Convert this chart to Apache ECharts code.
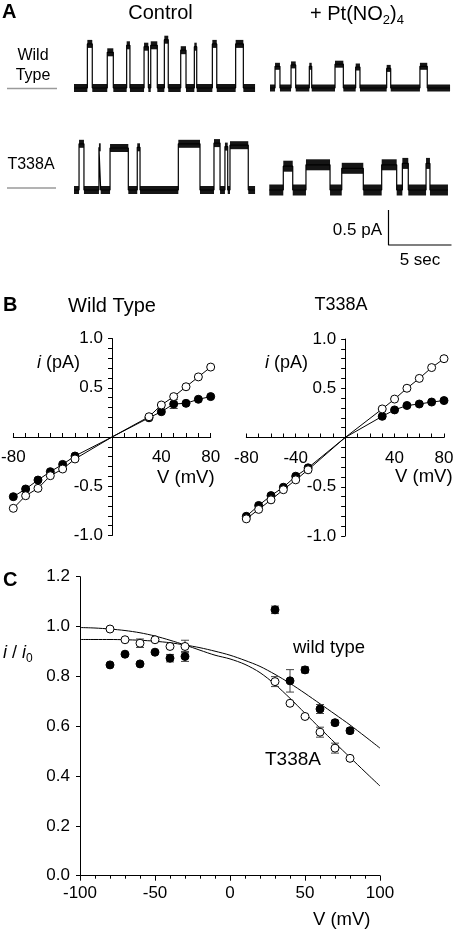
<!DOCTYPE html>
<html><head><meta charset="utf-8">
<script src="https://cdn.jsdelivr.net/npm/echarts@6/dist/echarts.min.js"></script>
<style>html,body{margin:0;padding:0;background:#fff}#c{width:455px;height:933px}</style>
</head><body><div id="c"></div>
<script>
// ---------- Panel A: single-channel openings [open t (s), close t (s), amplitude (pA)]
const wtControlEvents = [[1.06,1.45,0.63],[2.64,3.12,0.51],[4.18,4.44,0.61],[5.56,5.90,0.59],[6.09,6.61,0.61],[7.17,7.48,0.69],[8.47,8.89,0.54],[9.55,9.74,0.59],[10.98,11.33,0.63],[12.83,13.44,0.63]];
const wtPtEvents = [[0.40,0.79,0.31],[1.67,2.04,0.33],[3.12,3.31,0.31],[5.16,5.82,0.34],[6.80,7.14,0.30],[9.26,9.58,0.28],[11.90,12.48,0.31]];
const t338aControlEvents = [[0.40,0.79,0.66],[1.98,2.12,0.61],[2.86,4.31,0.60],[5.02,5.24,0.61],[8.28,10.00,0.66],[11.11,11.59,0.67],[11.98,12.20,0.62],[12.38,13.83,0.64]];
const t338aPtEvents = [[1.11,1.86,0.34],[2.91,4.82,0.36],[5.75,7.46,0.31],[8.92,10.11,0.36],[10.56,11.03,0.38],[12.44,12.75,0.38]];
const traceEnds = [14.37, 14.29, 14.37, 14.18];   // record length (s) of each trace
const scaleBarTime = 5;       // s
const scaleBarCurrent = 0.5;  // pA

// ---------- Panel B: I-V relations
const ivVoltages = [-80,-70,-60,-50,-40,-30,30,40,50,60,70,80];
const wtControlI = [-0.724,-0.596,-0.521,-0.393,-0.325,-0.223,0.206,0.325,0.41,0.51,0.61,0.71];
const wtPtI = [-0.606,-0.528,-0.437,-0.352,-0.278,-0.193,0.195,0.257,0.335,0.342,0.383,0.41];
const wtPtIErr = [0,0,0,0,0,0,0,0,0.045,0,0,0];
const t338aControlI = [-0.826,-0.73,-0.633,-0.53,-0.43,-0.328,0.29,0.39,0.50,0.60,0.71,0.80];
const t338aPtI = [-0.80,-0.69,-0.59,-0.505,-0.393,-0.308,0.215,0.28,0.325,0.34,0.36,0.375];
const ivTickLabelsWT = [-80, 40, 80];
const ivTickLabelsT338A = [-80, -40, 40, 80];

// ---------- Panel C: fractional current i/i0
const blockVoltages = [-80,-70,-60,-50,-40,-30,30,40,50,60,70,80];
const wtRatio = [0.846,0.889,0.85,0.897,0.873,0.88,1.067,0.782,0.826,0.669,0.614,0.582];
const wtRatioErr = [0.005,0.005,0.005,0.005,0.015,0.02,0.015,0.045,0.012,0.018,0.01,0.01];
const t338aRatio = [0.99,0.947,0.933,0.947,0.92,0.92,0.779,0.692,0.639,0.576,0.512,0.471];
const t338aRatioErr = [0.005,0.005,0.017,0.005,0.008,0.025,0.02,0.005,0.005,0.02,0.02,0.008];
const fitVoltages = [-100,-90,-80,-70,-60,-50,-40,-30,-20,-10,0,10,20,30,40,50,60,70,80,90,100];
const wtFit = [0.948,0.948,0.948,0.947,0.945,0.941,0.935,0.926,0.915,0.901,0.885,0.864,0.84,0.808,0.772,0.732,0.69,0.648,0.605,0.559,0.512];
const t338aFit = [0.996,0.994,0.99,0.984,0.975,0.962,0.945,0.926,0.905,0.885,0.87,0.848,0.815,0.768,0.712,0.652,0.592,0.533,0.475,0.417,0.36];

// ================= build =================
const FONT = "'Liberation Sans', Arial, Helvetica, sans-serif";
const chart = echarts.init(document.getElementById('c'), null, {renderer: 'canvas'});

function stepData(events, end) {
  const d = [[0, 0]];
  events.forEach(([a, b, h]) => d.push([a, 0], [a, h], [b, h], [b, 0]));
  d.push([end, 0]);
  return d;
}
function dwellSegments(events, end) {
  const s = []; let t = 0;
  events.forEach(([a, b, h]) => { s.push([t, a, 0]); s.push([a, b, h]); t = b; });
  s.push([t, end, 0]);
  return s;
}
function bandRender(half) {
  return function (params, api) {
    const p0 = api.coord([api.value(0), api.value(2)]);
    const p1 = api.coord([api.value(1), api.value(2)]);
    return {type: 'rect', shape: {x: p0[0], y: p0[1] - half, width: Math.max(p1[0] - p0[0], 0.6), height: half * 2},
      style: {fill: '#151515'}};
  };
}
function ivLine(v, vals) {
  const pts = v.map((x, k) => [x, vals[k]]);
  const neg = pts.filter(p => p[0] < 0), pos = pts.filter(p => p[0] > 0);
  return neg.concat([[0, 0]], pos);
}
function errRender(color) {
  return function (params, api) {
    const x = api.value(0), m = api.value(1), e = api.value(2);
    const top = api.coord([x, m + e]), bot = api.coord([x, m - e]);
    const c = 4;
    return {type: 'group', children: [
      {type: 'line', shape: {x1: top[0], y1: top[1], x2: bot[0], y2: bot[1]}, style: {stroke: color, lineWidth: 1}},
      {type: 'line', shape: {x1: top[0] - c, y1: top[1], x2: top[0] + c, y2: top[1]}, style: {stroke: color, lineWidth: 1}},
      {type: 'line', shape: {x1: bot[0] - c, y1: bot[1], x2: bot[0] + c, y2: bot[1]}, style: {stroke: color, lineWidth: 1}}
    ]};
  };
}

const traceEvents = [wtControlEvents, wtPtEvents, t338aControlEvents, t338aPtEvents];
const traceGrids = [
  {left: 74, top: 32, width: 189, height: 126},
  {left: 270, top: 32, width: 189, height: 126},
  {left: 74, top: 134, width: 189, height: 126},
  {left: 269.3, top: 134, width: 189, height: 126}
];
const bandHalf = [4, 3.5, 4, 5.5];
const ivGridWT = {left: 13.3, top: 338.5, width: 197.4, height: 197};
const ivGridT = {left: 246.3, top: 339, width: 197.7, height: 197};
const blockGrid = {left: 80, top: 576.7, width: 300, height: 299};

const grids = traceGrids.concat([ivGridWT, ivGridT, blockGrid]).map(g => Object.assign({outerBoundsMode: 'none', containLabel: false}, g));

const xAxes = [], yAxes = [], series = [];
traceGrids.forEach((g, i) => {
  xAxes.push({gridIndex: i, type: 'value', min: 0, max: 15, show: false});
  yAxes.push({gridIndex: i, type: 'value', min: -1, max: 0.8, show: false});
  series.push({type: 'line', xAxisIndex: i, yAxisIndex: i, data: stepData(traceEvents[i], traceEnds[i]),
    symbol: 'none', lineStyle: {color: '#000', width: 1.2}, z: 3, silent: true});
  series.push({type: 'custom', xAxisIndex: i, yAxisIndex: i, data: dwellSegments(traceEvents[i], traceEnds[i]),
    renderItem: bandRender(bandHalf[i]), encode: {x: [0, 1], y: 2}, z: 2, silent: true});
});
// scale bar in the T338A + Pt trace coordinates
const sbT0 = 9.46, sbI0 = -0.786;
series.push({type: 'line', xAxisIndex: 3, yAxisIndex: 3,
  data: [[sbT0, sbI0 + scaleBarCurrent], [sbT0, sbI0], [sbT0 + scaleBarTime, sbI0]],
  symbol: 'none', lineStyle: {color: '#000', width: 1.2}});

// Panel B axes (crossing at the origin: offsets place the axis lines at the zero of the other axis)
function ivAxes(gi, g, labels) {
  const xMin = -80, xMax = 80, yMin = -1, yMax = 1;
  const xOff = -(0 - yMin) / (yMax - yMin) * g.height;   // move bottom axis up to i = 0
  const yOff = -(0 - xMin) / (xMax - xMin) * g.width;    // move left axis right to V = 0
  xAxes.push({gridIndex: gi, type: 'value', min: xMin, max: xMax, interval: 10, position: 'bottom', offset: xOff,
    axisLine: {show: true, onZero: false, lineStyle: {color: '#000', width: 1}},
    axisTick: {show: true, inside: true, length: 4, lineStyle: {color: '#000'}},
    axisLabel: {interval: 0, margin: 12, color: '#000', fontSize: 17, fontFamily: FONT,
      formatter: v => labels.indexOf(Math.round(v)) >= 0 ? String(Math.round(v)) : ''},
    splitLine: {show: false}});
  yAxes.push({gridIndex: gi, type: 'value', min: yMin, max: yMax, interval: 0.1, position: 'left', offset: yOff,
    axisLine: {show: true, onZero: false, lineStyle: {color: '#000', width: 1}},
    axisTick: {show: true, length: 4, lineStyle: {color: '#000'}},
    axisLabel: {interval: 0, margin: 9, color: '#000', fontSize: 17, fontFamily: FONT,
      formatter: v => (Math.abs(Math.abs(v) - 0.5) < 1e-6 || Math.abs(Math.abs(v) - 1) < 1e-6) ? v.toFixed(1) : ''},
    splitLine: {show: false}});
}
ivAxes(4, ivGridWT, ivTickLabelsWT);
ivAxes(5, ivGridT, ivTickLabelsT338A);

function ivSeries(ai, ctrl, pt, ptErr) {
  series.push({type: 'line', xAxisIndex: ai, yAxisIndex: ai, data: ivLine(ivVoltages, ctrl), symbol: 'none',
    lineStyle: {color: '#000', width: 1}, z: 2});
  series.push({type: 'line', xAxisIndex: ai, yAxisIndex: ai, data: ivLine(ivVoltages, pt), symbol: 'none',
    lineStyle: {color: '#000', width: 1}, z: 2});
  if (ptErr) series.push({type: 'custom', xAxisIndex: ai, yAxisIndex: ai,
    data: ivVoltages.map((v, k) => [v, pt[k], ptErr[k]]).filter(d => d[2] > 0),
    renderItem: errRender('#333'), encode: {x: 0, y: 1}, z: 3});
  series.push({type: 'scatter', xAxisIndex: ai, yAxisIndex: ai, data: ivVoltages.map((v, k) => [v, pt[k]]),
    symbol: 'circle', symbolSize: 8, itemStyle: {color: '#000', borderColor: '#000', borderWidth: 1, opacity: 1}, z: 4});
  series.push({type: 'scatter', xAxisIndex: ai, yAxisIndex: ai, data: ivVoltages.map((v, k) => [v, ctrl[k]]),
    symbol: 'circle', symbolSize: 8, itemStyle: {color: '#fff', borderColor: '#000', borderWidth: 1, opacity: 1}, z: 5});
}
ivSeries(4, wtControlI, wtPtI, wtPtIErr);
ivSeries(5, t338aControlI, t338aPtI, null);

// Panel C
xAxes.push({gridIndex: 6, type: 'value', min: -100, max: 100, interval: 50,
  axisLine: {show: true, onZero: false, lineStyle: {color: '#000', width: 1}},
  axisTick: {show: true, length: 5, lineStyle: {color: '#000'}},
  minorTick: {show: true, splitNumber: 5, length: 3, lineStyle: {color: '#000'}},
  axisLabel: {margin: 9, color: '#000', fontSize: 17, fontFamily: FONT},
  splitLine: {show: false}});
yAxes.push({gridIndex: 6, type: 'value', min: 0, max: 1.2, interval: 0.2,
  axisLine: {show: true, onZero: false, lineStyle: {color: '#000', width: 1}},
  axisTick: {show: true, length: 4, lineStyle: {color: '#000'}},
  axisLabel: {margin: 10, color: '#000', fontSize: 17, fontFamily: FONT, formatter: v => v.toFixed(1)},
  splitLine: {show: false}});
series.push({type: 'line', xAxisIndex: 6, yAxisIndex: 6, data: fitVoltages.map((v, k) => [v, wtFit[k]]),
  symbol: 'none', smooth: 0.3, lineStyle: {color: '#000', width: 1}, z: 2});
series.push({type: 'line', xAxisIndex: 6, yAxisIndex: 6, data: fitVoltages.map((v, k) => [v, t338aFit[k]]),
  symbol: 'none', smooth: 0.3, lineStyle: {color: '#000', width: 1}, z: 2});
series.push({type: 'custom', xAxisIndex: 6, yAxisIndex: 6, data: blockVoltages.map((v, k) => [v, wtRatio[k], wtRatioErr[k]]),
  renderItem: errRender('#444'), encode: {x: 0, y: 1}, z: 3});
series.push({type: 'custom', xAxisIndex: 6, yAxisIndex: 6, data: blockVoltages.map((v, k) => [v, t338aRatio[k], t338aRatioErr[k]]),
  renderItem: errRender('#444'), encode: {x: 0, y: 1}, z: 3});
series.push({type: 'scatter', xAxisIndex: 6, yAxisIndex: 6, data: blockVoltages.map((v, k) => [v, wtRatio[k]]),
  symbol: 'circle', symbolSize: 8, itemStyle: {color: '#000', borderColor: '#000', borderWidth: 1, opacity: 1}, z: 4});
series.push({type: 'scatter', xAxisIndex: 6, yAxisIndex: 6, data: blockVoltages.map((v, k) => [v, t338aRatio[k]]),
  symbol: 'circle', symbolSize: 8, itemStyle: {color: '#fff', borderColor: '#000', borderWidth: 1, opacity: 1}, z: 5});

// ---------- text & decorations
function txt(x, y, text, size, opts) {
  return {type: 'text', x: x, y: y, z: 10, style: {text: text, fill: '#000',
    font: (opts && opts.weight ? opts.weight + ' ' : '') + size + 'px ' + FONT,
    textAlign: (opts && opts.align) || 'left', textVerticalAlign: 'middle'}};
}
function richTxt(x, y, text, rich, align) {
  return {type: 'text', x: x, y: y, z: 10, style: {text: text, rich: rich, textAlign: align || 'left', textVerticalAlign: 'middle', fill: '#000'}};
}
const base = (s, extra) => Object.assign({fontSize: s, fontFamily: FONT, color: '#000', fill: '#000', lineHeight: Math.round(s * 1.3), verticalAlign: 'middle'}, extra || {});
const sub = (s) => ({fontSize: s, fontFamily: FONT, color: '#000', fill: '#000', lineHeight: s, verticalAlign: 'bottom'});

const graphics = [
  txt(2, 12, 'A', 20, {weight: 'bold'}),
  txt(160.5, 13, 'Control', 20, {align: 'center'}),
  richTxt(357, 14, '{a|+ Pt(NO}{s|2}{a|)}{s|4}', {a: base(20, {lineHeight: 26}), s: sub(13)}, 'center'),
  txt(33, 56, 'Wild', 16, {align: 'center'}),
  txt(33, 76, 'Type', 16, {align: 'center'}),
  {type: 'line', z: 10, shape: {x1: 7, y1: 88.5, x2: 57, y2: 88.5}, style: {stroke: '#9a9a9a', lineWidth: 1.5}},
  txt(31, 165, 'T338A', 16, {align: 'center'}),
  {type: 'line', z: 10, shape: {x1: 7, y1: 188, x2: 56, y2: 188}, style: {stroke: '#9a9a9a', lineWidth: 1.5}},
  txt(382, 230, '0.5 pA', 17, {align: 'right'}),
  txt(420, 260, '5 sec', 17, {align: 'center'}),
  txt(3, 305, 'B', 20, {weight: 'bold'}),
  txt(112, 306, 'Wild Type', 20, {align: 'center'}),
  txt(341, 305, 'T338A', 18, {align: 'center'}),
  richTxt(37, 363, '{i|i}{n| (pA)}', {i: base(18, {fontStyle: 'italic'}), n: base(18)}),
  richTxt(265, 363, '{i|i}{n| (pA)}', {i: base(18, {fontStyle: 'italic'}), n: base(18)}),
  txt(157, 478, 'V (mV)', 18.5),
  txt(395, 477, 'V (mV)', 18.5),
  txt(3, 580, 'C', 20, {weight: 'bold'}),
  richTxt(3, 653, '{i|i}{n| / }{i|i}{s|0}', {i: base(18, {fontStyle: 'italic', lineHeight: 24}), n: base(18, {lineHeight: 24}), s: sub(12)}),
  txt(293, 648, 'wild type', 18.5),
  txt(265, 760, 'T338A', 19),
  txt(341.7, 920, 'V (mV)', 18.5, {align: 'center'})
];

chart.setOption({
  animation: false,
  backgroundColor: '#fff',
  grid: grids,
  xAxis: xAxes,
  yAxis: yAxes,
  series: series,
  graphic: graphics
});
</script></body></html>
